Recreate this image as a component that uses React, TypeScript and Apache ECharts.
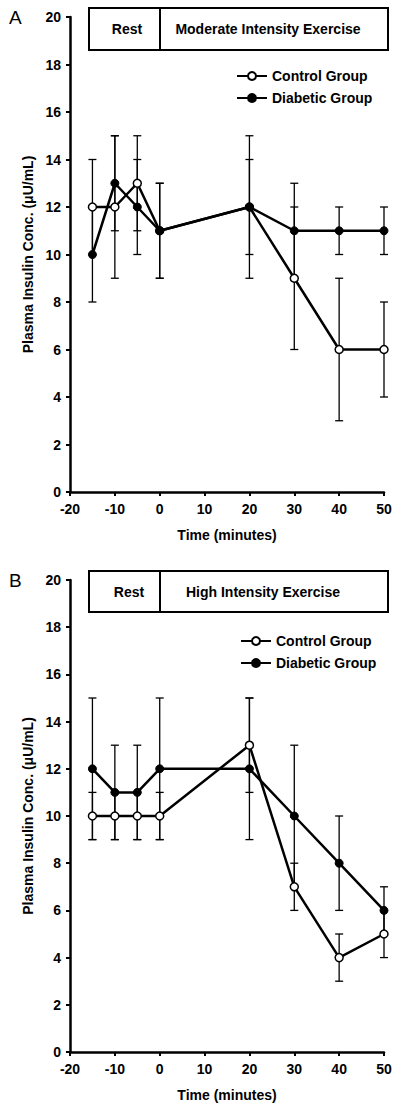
import React, { useEffect, useRef } from "react";
import * as echarts from "echarts";

// ---- data ----
const times = [-15, -10, -5, 0, 20, 30, 40, 50];
const aControl = [12, 12, 13, 11, 12, 9, 6, 6];
const aControlErr = [2, 3, 2, 2, 3, 3, 3, 2];
const aDiabetic = [10, 13, 12, 11, 12, 11, 11, 11];
const aDiabeticErr = [2, 2, 2, 2, 2, 2, 1, 1];
const bControl = [10, 10, 10, 10, 13, 7, 4, 5];
const bControlErr = [1, 1, 1, 1, 2, 1, 1, 1];
const bDiabetic = [12, 11, 11, 12, 12, 10, 8, 6];
const bDiabeticErr = [3, 2, 2, 3, 3, 3, 2, 1];
const seriesNames = ["Control Group", "Diabetic Group"];
const panelLabels = ["A", "B"];
const restLabel = "Rest";
const exerciseLabels = ["Moderate Intensity Exercise", "High Intensity Exercise"];
const xTitle = "Time (minutes)";
const yTitle = "Plasma Insulin Conc. (\u03bcU/mL)";

const FONT = "'Liberation Sans', Arial, Helvetica, sans-serif";

function pairs(xs: number[], ys: number[]) {
  return xs.map((x, i) => [x, ys[i]]);
}
function errs(xs: number[], ys: number[], es: number[]) {
  return xs.map((x, i) => [x, ys[i] - es[i], ys[i] + es[i]]);
}

const errorRender = (params: any, api: any) => {
  const x = api.value(0);
  const lo = api.coord([x, api.value(1)]);
  const hi = api.coord([x, api.value(2)]);
  const hw = 4;
  const style = { stroke: "#000", lineWidth: 1.3 };
  return {
    type: "group",
    children: [
      { type: "line", shape: { x1: lo[0], y1: lo[1], x2: hi[0], y2: hi[1] }, style },
      { type: "line", shape: { x1: lo[0] - hw, y1: lo[1], x2: lo[0] + hw, y2: lo[1] }, style },
      { type: "line", shape: { x1: hi[0] - hw, y1: hi[1], x2: hi[0] + hw, y2: hi[1] }, style },
    ],
  };
};

export default function App() {
  const ref = useRef<HTMLDivElement>(null);
  useEffect(() => {
    if (!ref.current) return;
    const chart = echarts.init(ref.current, null, { renderer: "svg" });
    const grids = [
      { left: 70, top: 17, width: 314, height: 475 },
      { left: 70, top: 580, width: 314, height: 472 },
    ];
    const axisLabel = { color: "#000", fontFamily: FONT, fontWeight: "bold", fontSize: 14 };
    const xAxes = grids.map((_, i) => ({
      type: "value",
      gridIndex: i,
      min: -20,
      max: 50,
      interval: 10,
      name: xTitle,
      nameLocation: "middle",
      nameGap: 36,
      nameTextStyle: { color: "#000", fontFamily: FONT, fontWeight: "bold", fontSize: 14 },
      axisLine: { onZero: false, lineStyle: { color: "#000", width: 2.5 } },
      axisTick: { show: true, length: 4, lineStyle: { color: "#000", width: 2 } },
      axisLabel: { ...axisLabel, margin: 10 },
      splitLine: { show: false },
    }));
    const yAxes = grids.map((_, i) => ({
      type: "value",
      gridIndex: i,
      min: 0,
      max: 20,
      interval: 2,
      name: yTitle,
      nameLocation: "middle",
      nameGap: 31,
      nameTextStyle: { color: "#000", fontFamily: FONT, fontWeight: "bold", fontSize: 14 },
      axisLine: { show: true, onZero: false, lineStyle: { color: "#000", width: 2.5 } },
      axisTick: { show: true, length: 4, lineStyle: { color: "#000", width: 2 } },
      axisLabel: { ...axisLabel, margin: 9 },
      splitLine: { show: false },
    }));

    const panels = [
      { c: aControl, ce: aControlErr, d: aDiabetic, de: aDiabeticErr },
      { c: bControl, ce: bControlErr, d: bDiabetic, de: bDiabeticErr },
    ];
    const series: any[] = [];
    panels.forEach((p, i) => {
      series.push({
        type: "custom",
        xAxisIndex: i,
        yAxisIndex: i,
        renderItem: errorRender,
        encode: { x: 0, y: [1, 2] },
        data: errs(times, p.c, p.ce),
        z: 1,
        silent: true,
      });
      series.push({
        type: "custom",
        xAxisIndex: i,
        yAxisIndex: i,
        renderItem: errorRender,
        encode: { x: 0, y: [1, 2] },
        data: errs(times, p.d, p.de),
        z: 1,
        silent: true,
      });
      series.push({
        name: seriesNames[0],
        type: "line",
        xAxisIndex: i,
        yAxisIndex: i,
        data: pairs(times, p.c),
        symbol: "circle",
        symbolSize: 8,
        lineStyle: { color: "#000", width: 2.5 },
        itemStyle: { color: "#fff", borderColor: "#000", borderWidth: 1.5 },
        z: 3,
      });
      series.push({
        name: seriesNames[1],
        type: "line",
        xAxisIndex: i,
        yAxisIndex: i,
        data: pairs(times, p.d),
        symbol: "circle",
        symbolSize: 8,
        lineStyle: { color: "#000", width: 2.5 },
        itemStyle: { color: "#000", borderColor: "#000", borderWidth: 1 },
        z: 4,
      });
    });

    const legendBase = {
      orient: "vertical",
      itemWidth: 30,
      itemHeight: 10,
      itemGap: 8,
      padding: 0,
      data: seriesNames,
      selectedMode: false,
      textStyle: { color: "#000", fontFamily: FONT, fontWeight: "bold", fontSize: 14, lineHeight: 14 },
    };

    const headerBoxes = [
      { top: 8, h: 42, restX: 127, exX: 268 },
      { top: 571, h: 41, restX: 129, exX: 263 },
    ];
    const graphic: any[] = [];
    headerBoxes.forEach((b, i) => {
      graphic.push({
        type: "rect",
        shape: { x: 89, y: b.top, width: 299, height: b.h },
        style: { fill: "#fff", stroke: "#000", lineWidth: 2 },
      });
      graphic.push({
        type: "line",
        shape: { x1: 160, y1: b.top, x2: 160, y2: b.top + b.h },
        style: { stroke: "#000", lineWidth: 2 },
      });
      graphic.push({
        type: "text",
        x: b.restX,
        y: b.top + b.h / 2,
        style: {
          text: restLabel, fill: "#000", fontFamily: FONT, fontWeight: "bold", fontSize: 14,
          align: "center", verticalAlign: "middle",
        },
      });
      graphic.push({
        type: "text",
        x: b.exX,
        y: b.top + b.h / 2,
        style: {
          text: exerciseLabels[i], fill: "#000", fontFamily: FONT, fontWeight: "bold", fontSize: 14,
          align: "center", verticalAlign: "middle",
        },
      });
      graphic.push({
        type: "text",
        x: 9,
        y: i === 0 ? 17 : 580,
        style: {
          text: panelLabels[i], fill: "#000", fontFamily: FONT, fontSize: 19,
          align: "left", verticalAlign: "middle",
        },
      });
    });

    chart.setOption({
      animation: false,
      backgroundColor: "#fff",
      grid: grids.map((g) => ({ ...g, outerBoundsMode: "none" })),
      xAxis: xAxes,
      yAxis: yAxes,
      legend: [
        { ...legendBase, left: 236, top: 69 },
        { ...legendBase, left: 240, top: 634 },
      ],
      series,
      graphic,
    });
    return () => chart.dispose();
  }, []);
  return (
    <div
      ref={ref}
      style={{ position: "absolute", left: 0, top: 0, width: 400, height: 1112, background: "#fff" }}
    />
  );
}
